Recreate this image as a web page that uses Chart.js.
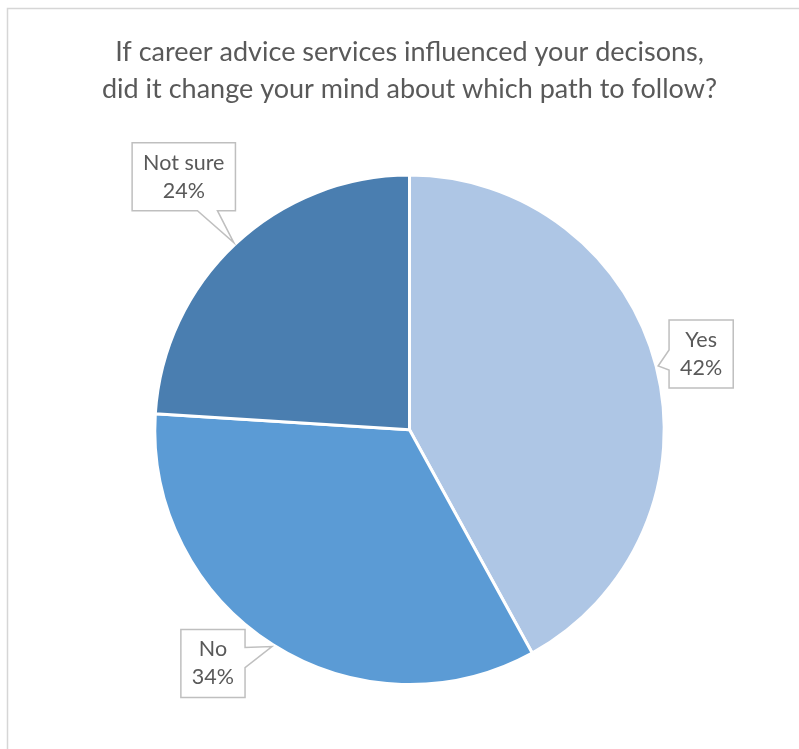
<!DOCTYPE html>
<html>
<head>
<meta charset="utf-8">
<script src="https://cdn.jsdelivr.net/npm/chart.js@4/dist/chart.umd.min.js"></script>
<style>
  html, body { margin: 0; padding: 0; background: #fff; }
  #wrap { width: 799px; height: 749px; }
</style>
</head>
<body>
<div id="wrap"><canvas id="pie"></canvas></div>
<script>
const answers = ['Yes', 'No', 'Not sure'];
const shares = [42, 34, 24];
const sliceColors = ['#aec6e5', '#5b9bd5', '#4a7eb0'];

const FONT = 'Lato, "Open Sans", sans-serif';

// light frame around the whole chart
const framePlugin = {
    id: 'frame',
    beforeDraw(chart) {
        const c = chart.ctx;
        c.save();
        c.strokeStyle = '#d6d6d6';
        c.lineWidth = 1.5;
        c.strokeRect(7.5, 8.5, chart.width + 20, chart.height + 20);
        c.restore();
    }
};

// Excel-style callout boxes with a wedge pointing at each slice
const calloutPlugin = {
    id: 'callouts',
    afterDatasetsDraw(chart, args, opts) {
        const c = chart.ctx;
        const meta = chart.getDatasetMeta(0);
        const ds = chart.data.datasets[0];
        const total = ds.data.reduce((a, b) => a + b, 0);
        c.save();
        c.font = opts.font;
        meta.data.forEach((arc, i) => {
            const mid = (arc.startAngle + arc.endAngle) / 2;
            const r = arc.outerRadius + 2;
            const tx = arc.x + Math.cos(mid) * r;
            const ty = arc.y + Math.sin(mid) * r;
            const lines = [chart.data.labels[i], Math.round(ds.data[i] / total * 100) + '%'];
            const w = Math.max(...lines.map(s => c.measureText(s).width)) + 2 * opts.padX;
            const h = lines.length * opts.lineHeight + 2 * opts.padY;
            const off = opts.offsets[i];
            const L = tx + off[0] - w / 2, T = ty + off[1] - h / 2;
            const R = L + w, B = T + h;
            const dx = Math.max(L - tx, tx - R, 0);
            const dy = Math.max(T - ty, ty - B, 0);
            const hw = opts.wedge / 2, m = opts.wedgeMargin;
            const clamp = (v, a, b) => Math.min(Math.max(v, a), b);

            c.beginPath();
            c.moveTo(L, T);
            if (dy > dx && ty < T) {
                const bc = clamp(tx, L + m + hw, R - m - hw);
                c.lineTo(bc - hw, T); c.lineTo(tx, ty); c.lineTo(bc + hw, T);
            }
            c.lineTo(R, T);
            if (dx >= dy && tx > R) {
                const bc = clamp(ty, T + m + hw, B - m - hw);
                c.lineTo(R, bc - hw); c.lineTo(tx, ty); c.lineTo(R, bc + hw);
            }
            c.lineTo(R, B);
            if (dy > dx && ty > B) {
                const bc = clamp(tx, L + m + hw, R - m - hw);
                c.lineTo(bc + hw, B); c.lineTo(tx, ty); c.lineTo(bc - hw, B);
            }
            c.lineTo(L, B);
            if (dx >= dy && tx < L) {
                const bc = clamp(ty, T + m + hw, B - m - hw);
                c.lineTo(L, bc + hw); c.lineTo(tx, ty); c.lineTo(L, bc - hw);
            }
            c.closePath();
            c.fillStyle = '#ffffff';
            c.fill();
            c.strokeStyle = '#bfbfbf';
            c.lineWidth = 1.5;
            c.stroke();

            c.fillStyle = opts.color;
            c.textAlign = 'center';
            c.textBaseline = 'middle';
            lines.forEach((s, k) => {
                c.fillText(s, (L + R) / 2, T + opts.padY + opts.lineHeight * (k + 0.5));
            });
        });
        c.restore();
    }
};

new Chart(document.getElementById('pie'), {
    type: 'pie',
    data: {
        labels: answers,
        datasets: [{
            data: shares,
            backgroundColor: sliceColors,
            borderColor: '#ffffff',
            borderWidth: 3
        }]
    },
    options: {
        responsive: true,
        maintainAspectRatio: false,
        animation: false,
        layout: { padding: { left: 20, right: 0, top: 0, bottom: 63 } },
        plugins: {
            legend: { display: false },
            tooltip: { enabled: false },
            title: {
                display: true,
                text: ['If career advice services influenced your decisons,',
                       'did it change your mind about which path to follow?'],
                color: '#595959',
                font: { family: FONT, size: 27, weight: 'normal', lineHeight: 1.4 },
                padding: { top: 33, bottom: 65 }
            },
            callouts: {
                font: '21.5px ' + FONT,
                color: '#595959',
                lineHeight: 28,
                padX: 11,
                padY: 6,
                wedge: 20,
                wedgeMargin: 18,
                offsets: [[43, -12], [-59, 17], [-50, -66]]
            }
        }
    },
    plugins: [framePlugin, calloutPlugin]
});
</script>
</body>
</html>
